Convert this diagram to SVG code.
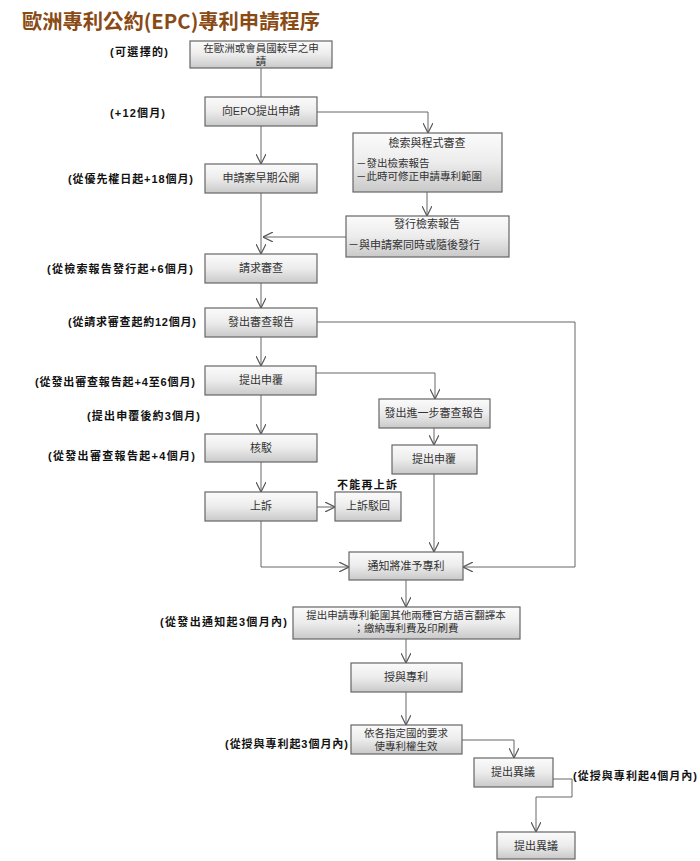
<svg xmlns="http://www.w3.org/2000/svg" width="700" height="861" viewBox="0 0 700 861">
<defs>
<linearGradient id="g" x1="0" y1="0" x2="0" y2="1">
<stop offset="0" stop-color="#fbfbfb"/>
<stop offset="0.5" stop-color="#ececec"/>
<stop offset="1" stop-color="#c9c9c9"/>
</linearGradient>
<marker id="a" viewBox="0 0 10 10" refX="10" refY="5" markerWidth="10" markerHeight="10" markerUnits="userSpaceOnUse" orient="auto">
<path d="M0,0 L10,5 L0,10" fill="none" stroke="#555" stroke-width="1.2"/>
</marker>
</defs>
<style>
.box rect{fill:url(#g);stroke:#666;stroke-width:1.2}
.box text{font-family:"Liberation Sans","Noto Sans CJK TC",sans-serif;font-size:11px;fill:#333;text-anchor:middle}
.box text.l{text-anchor:start}
.box text.s{font-size:10.5px}
.lbl{font-family:"Liberation Sans","Noto Sans CJK TC",sans-serif;font-size:11px;font-weight:bold;fill:#111;text-anchor:end}
.conn path{fill:none;stroke:#666;stroke-width:1}
.ttl{font-family:"Noto Sans CJK TC","Liberation Sans",sans-serif;font-size:20px;font-weight:bold;fill:#8a4a14}
</style>
<rect width="700" height="861" fill="#fff"/>
<text class="ttl" x="22" y="29" textLength="298" lengthAdjust="spacingAndGlyphs">歐洲專利公約(EPC)專利申請程序</text>

<g class="conn" marker-end="url(#a)">
<path d="M261,68 V97" marker-end="none"/>
<path d="M261,126 V164"/>
<path d="M317,112 H428 V133"/>
<path d="M427,192 V216"/>
<path d="M261,193 V254"/>
<path d="M346,237 H263"/>
<path d="M261,283 V308"/>
<path d="M317,322 H575 V567 H463"/>
<path d="M261,337 V366"/>
<path d="M316,373 H435 V399"/>
<path d="M261,395 V434"/>
<path d="M434,428 V445"/>
<path d="M261,462 V492"/>
<path d="M317,507 H335"/>
<path d="M261,521 V567 H349"/>
<path d="M434,474 V552"/>
<path d="M406,580 V607"/>
<path d="M406,639 V663"/>
<path d="M406,692 V725"/>
<path d="M462,740 H514 V758"/>
<path d="M553,779 H572 V797 H536 V832"/>
</g>

<g id="n1" class="box"><rect x="190" y="41" width="142" height="27"/><text class="s" x="261" y="52">在歐洲或會員國較早之申<tspan x="261" dy="13">請</tspan></text></g>
<g id="n2" class="box"><rect x="205" y="97" width="112" height="29"/><text x="261" y="115">向EPO提出申請</text></g>
<g id="n3" class="box"><rect x="353" y="133" width="149" height="59"/><text x="427" y="147">檢索與程式審查</text><text class="l s" x="356" y="167">－發出檢索報告<tspan x="356" dy="13">－此時可修正申請專利範圍</tspan></text></g>
<g id="n4" class="box"><rect x="205" y="164" width="112" height="29"/><text x="261" y="182">申請案早期公開</text></g>
<g id="n5" class="box"><rect x="346" y="216" width="163" height="41"/><text x="427" y="228">發行檢索報告</text><text class="l" x="348" y="249">－與申請案同時或隨後發行</text></g>
<g id="n6" class="box"><rect x="205" y="254" width="112" height="29"/><text x="261" y="272">請求審查</text></g>
<g id="n7" class="box"><rect x="205" y="308" width="112" height="29"/><text x="261" y="326">發出審查報告</text></g>
<g id="n8" class="box"><rect x="205" y="366" width="111" height="29"/><text x="261" y="384">提出申覆</text></g>
<g id="n9" class="box"><rect x="379" y="399" width="111" height="29"/><text x="434" y="417">發出進一步審查報告</text></g>
<g id="n10" class="box"><rect x="392" y="445" width="85" height="29"/><text x="434" y="463">提出申覆</text></g>
<g id="n11" class="box"><rect x="205" y="434" width="112" height="28"/><text x="261" y="452">核駁</text></g>
<g id="n12" class="box"><rect x="205" y="492" width="112" height="29"/><text x="261" y="510">上訴</text></g>
<g id="n13" class="box"><rect x="335" y="492" width="66" height="29"/><text x="368" y="510">上訴駁回</text></g>
<g id="n14" class="box"><rect x="349" y="552" width="114" height="28"/><text x="406" y="570">通知將准予專利</text></g>
<g id="n15" class="box"><rect x="293" y="607" width="227" height="32"/><text class="s" x="406" y="619">提出申請專利範圍其他兩種官方語言翻譯本<tspan x="406" dy="13">；繳納專利費及印刷費</tspan></text></g>
<g id="n16" class="box"><rect x="351" y="663" width="111" height="29"/><text x="406" y="681">授與專利</text></g>
<g id="n17" class="box"><rect x="351" y="725" width="111" height="29"/><text class="s" x="406" y="737">依各指定國的要求<tspan x="406" dy="13">使專利權生效</tspan></text></g>
<g id="n18" class="box"><rect x="474" y="758" width="79" height="29"/><text x="513" y="776">提出異議</text></g>
<g id="n19" class="box"><rect x="497" y="832" width="78" height="27"/><text x="536" y="850">提出異議</text></g>

<g id="labels">
<text class="lbl" x="168" y="56" textLength="58" lengthAdjust="spacing">(可選擇的)</text>
<text class="lbl" x="165" y="117" textLength="55" lengthAdjust="spacing">(+12個月)</text>
<text class="lbl" x="193" y="183" textLength="125" lengthAdjust="spacing">(從優先權日起+18個月)</text>
<text class="lbl" x="193" y="273" textLength="146" lengthAdjust="spacing">(從檢索報告發行起+6個月)</text>
<text class="lbl" x="196" y="326" textLength="128" lengthAdjust="spacing">(從請求審查起約12個月)</text>
<text class="lbl" x="195" y="386" textLength="160" lengthAdjust="spacing">(從發出審查報告起+4至6個月)</text>
<text class="lbl" x="200" y="420" textLength="113" lengthAdjust="spacing">(提出申覆後約3個月)</text>
<text class="lbl" x="195" y="460" textLength="147" lengthAdjust="spacing">(從發出審查報告起+4個月)</text>
<text class="lbl" x="397" y="489" textLength="60" lengthAdjust="spacing">不能再上訴</text>
<text class="lbl" x="287" y="626" textLength="127" lengthAdjust="spacing">(從發出通知起3個月內)</text>
<text class="lbl" x="348" y="748" textLength="123" lengthAdjust="spacing">(從授與專利起3個月內)</text>
<text class="lbl" x="697" y="780" textLength="124" lengthAdjust="spacing">(從授與專利起4個月內)</text>
</g>
</svg>
